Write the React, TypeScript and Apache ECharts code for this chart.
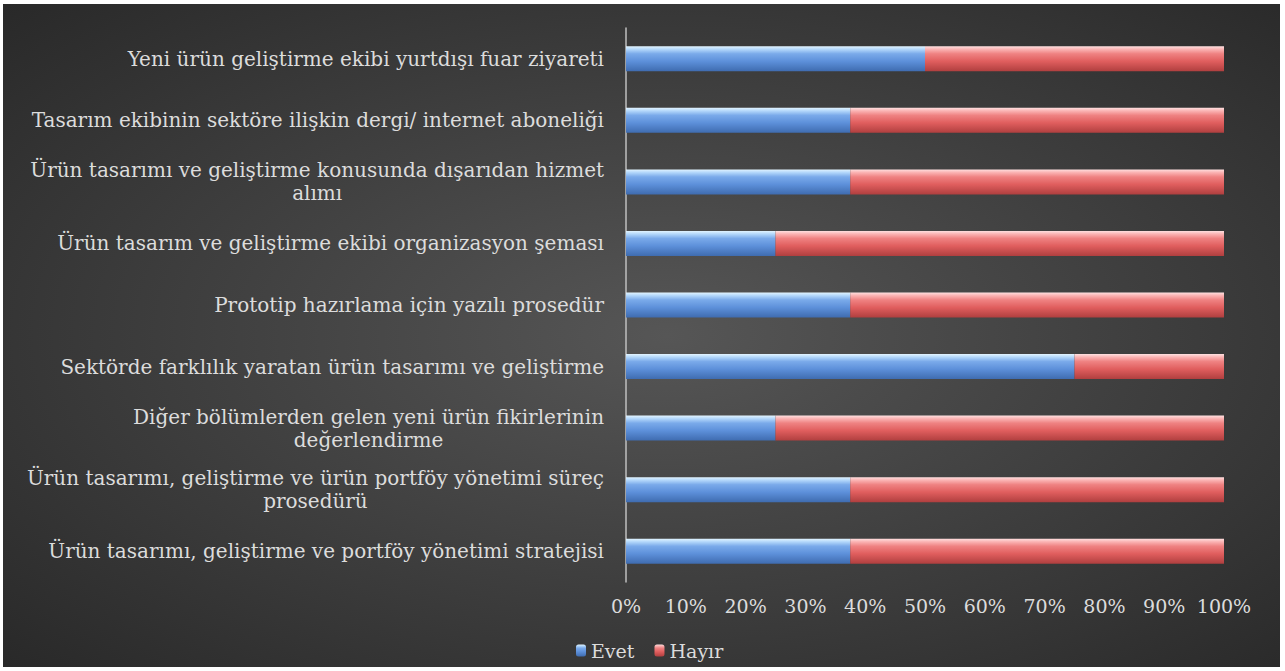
import React, { useEffect, useRef } from "react";
import * as echarts from "echarts";

const categories = [
  "Yeni ürün geliştirme ekibi yurtdışı fuar ziyareti",
  "Tasarım ekibinin sektöre ilişkin dergi/ internet aboneliği",
  "Ürün tasarımı ve geliştirme konusunda dışarıdan hizmet\nalımı",
  "Ürün tasarım ve geliştirme ekibi organizasyon şeması",
  "Prototip hazırlama için yazılı prosedür",
  "Sektörde farklılık yaratan ürün tasarımı ve geliştirme",
  "Diğer bölümlerden gelen yeni ürün fikirlerinin\ndeğerlendirme",
  "Ürün tasarımı, geliştirme ve ürün portföy yönetimi süreç\nprosedürü",
  "Ürün tasarımı, geliştirme ve portföy yönetimi stratejisi",
];
const evet = [50, 37.5, 37.5, 25, 37.5, 75, 25, 37.5, 37.5];
const hayir = [50, 62.5, 62.5, 75, 62.5, 25, 75, 62.5, 62.5];
const seriesNames = ["Evet", "Hayır"];

const labelFont = "'DejaVu Serif', serif";
const textColor = "#dcdcdc";

const blueGrad = new echarts.graphic.LinearGradient(0, 0, 0, 1, [
  { offset: 0, color: "#e2f4ff" },
  { offset: 0.12, color: "#b4d8fb" },
  { offset: 0.3, color: "#7aaaea" },
  { offset: 0.6, color: "#5d90da" },
  { offset: 1, color: "#3f6cb0" },
]);
const redGrad = new echarts.graphic.LinearGradient(0, 0, 0, 1, [
  { offset: 0, color: "#ffe0e0" },
  { offset: 0.12, color: "#fbb4b4" },
  { offset: 0.3, color: "#ef8282" },
  { offset: 0.6, color: "#e05e5e" },
  { offset: 1, color: "#b03f3f" },
]);

export default function App() {
  const ref = useRef<HTMLDivElement>(null);
  useEffect(() => {
    if (!ref.current) return;
    const chart = echarts.init(ref.current, undefined, { renderer: "svg" });
    chart.setOption({
      animation: false,
      backgroundColor: {
        type: "radial",
        x: 0.52,
        y: 0.5,
        r: 0.75,
        colorStops: [
          { offset: 0, color: "#565656" },
          { offset: 1, color: "#272727" },
        ],
      },
      grid: { left: 623, right: 56, top: 24, bottom: 85 },
      legend: {
        data: seriesNames,
        left: 568,
        top: 632,
        itemWidth: 10,
        itemHeight: 12,
        itemGap: 20,
        textStyle: { color: textColor, fontFamily: labelFont, fontSize: 19 },
      },
      xAxis: {
        type: "value",
        min: 0,
        max: 100,
        interval: 10,
        axisLine: { show: false },
        axisTick: { show: false },
        splitLine: { show: false },
        axisLabel: {
          formatter: "{value}%",
          color: textColor,
          fontFamily: labelFont,
          fontSize: 19,
          margin: 14,
        },
      },
      yAxis: {
        type: "category",
        data: categories,
        inverse: true,
        axisTick: { show: false },
        axisLine: { show: true, lineStyle: { color: "#bfbfbf", width: 1.5 } },
        axisLabel: {
          margin: 22,
          align: "right",
          color: textColor,
          fontFamily: labelFont,
          fontSize: 20,
          formatter: (v: string) =>
            v
              .split("\n")
              .map((l) => `{c|${l}}`)
              .join("\n"),
          rich: {
            c: {
              align: "center",
              color: textColor,
              fontFamily: labelFont,
              fontSize: 20,
              lineHeight: 23,
            },
          },
        },
      },
      series: [
        {
          name: seriesNames[0],
          type: "bar",
          stack: "total",
          barWidth: 25,
          data: evet,
          itemStyle: { color: blueGrad },
        },
        {
          name: seriesNames[1],
          type: "bar",
          stack: "total",
          barWidth: 25,
          data: hayir,
          itemStyle: { color: redGrad },
        },
      ],
    });
    return () => chart.dispose();
  }, []);
  return (
    <div style={{ position: "fixed", left: 0, top: 0, width: 1285, height: 671, background: "#fff" }}>
      <div ref={ref} style={{ position: "absolute", left: 3, top: 4, width: 1277, height: 663 }} />
    </div>
  );
}
